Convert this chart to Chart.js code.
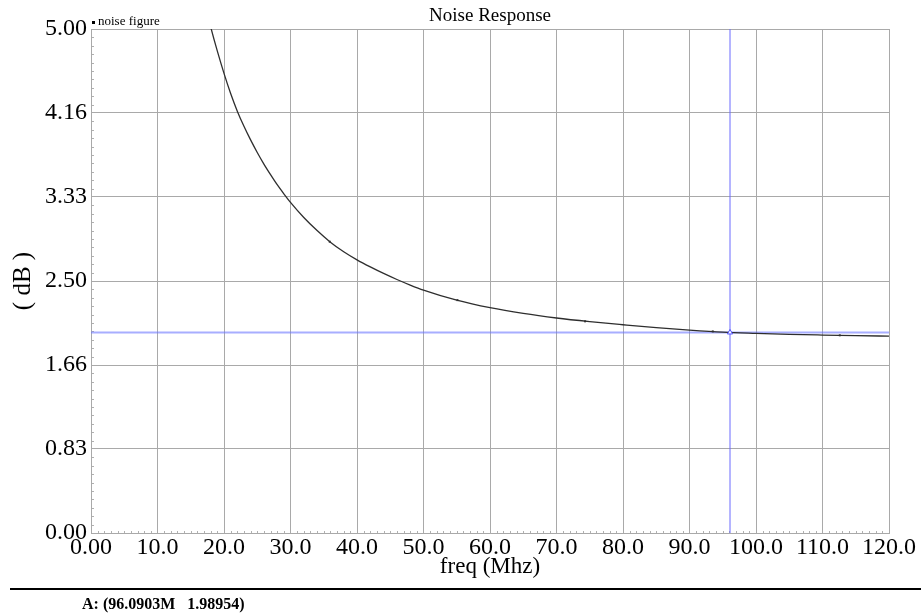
<!DOCTYPE html>
<html>
<head>
  <script src="https://cdn.jsdelivr.net/npm/chart.js@4"></script>
  <style>
    body { margin: 0; background: #fff; }
    #wrap { width: 921px; height: 613px; position: relative; }
  </style>
</head>
<body>
  <div id="wrap"><canvas id="myChart"></canvas></div>

  <script type="text/javascript">
    // noise figure curve
    var freq = [17, 18, 19, 20, 21, 22, 23, 24, 25, 26, 27, 28, 29, 30, 32, 34, 36, 38, 40, 42, 44, 46, 48, 50,
      55, 60, 65, 70, 75, 80, 85, 90, 95, 100, 105, 110, 115, 120];
    var noiseFig = [5.29, 5.02, 4.78, 4.56, 4.36, 4.185, 4.035, 3.90, 3.775, 3.66, 3.555, 3.455, 3.365, 3.28, 3.13, 3.00, 2.885, 2.79, 2.71, 2.64, 2.575, 2.515, 2.46, 2.41,
      2.31, 2.235, 2.178, 2.133, 2.097, 2.066, 2.037, 2.013, 1.993, 1.981, 1.971, 1.964, 1.958, 1.953];

    // small dot markers on the trace
    var markFreq = [35.9, 55.1, 74.3, 93.5, 112.6];
    var markVal = [2.89, 2.31, 2.10, 2.000, 1.961];

    // marker A
    var cursorFreq = 96.0903;
    var cursorVal = 1.98954;

    var xTicks = [0, 10, 20, 30, 40, 50, 60, 70, 80, 90, 100, 110, 120];
    var xTickLabels = ['0.00', '10.0', '20.0', '30.0', '40.0', '50.0', '60.0', '70.0', '80.0', '90.0', '100.0', '110.0', '120.0'];
    var yTicks = [0, 5 / 6, 10 / 6, 2.5, 20 / 6, 25 / 6, 5];
    var yTickLabels = ['0.00', '0.83', '1.66', '2.50', '3.33', '4.16', '5.00'];

    var serif = "'Liberation Serif', 'Times New Roman', serif";
    var gridColor = '#a9a9a9';

    function pts(xs, ys) {
      return xs.map(function (x, i) { return { x: x, y: ys[i] }; });
    }

    // title, legend, minor ticks and the marker readout under the chart
    var overlay = {
      id: 'overlay',
      beforeDatasetsDraw: function (chart) {
        var c = chart.ctx, a = chart.chartArea, sx = chart.scales.x, sy = chart.scales.y;
        c.save();
        c.fillStyle = '#b0b0b0';
        for (var f = 1; f < 120; f++) {
          if (f % 10 == 0) continue;
          c.fillRect(Math.round(sx.getPixelForValue(f)), a.bottom - 2, 1, 2);
        }
        for (var k = 1; k < 60; k++) {
          if (k % 10 == 0) continue;
          c.fillRect(a.left + 1, Math.round(sy.getPixelForValue(k * 5 / 60)), 2, 1);
        }
        c.restore();
      },
      afterDraw: function (chart) {
        var c = chart.ctx, a = chart.chartArea;
        c.save();
        c.fillStyle = '#000';
        c.textBaseline = 'alphabetic';
        c.textAlign = 'center';
        c.font = '19px ' + serif;
        c.fillText('Noise Response', (a.left + a.right) / 2, 21);

        c.textAlign = 'left';
        c.fillRect(92, 21, 3, 3);
        c.font = '13px ' + serif;
        c.fillText('noise figure', 98, 25);

        c.fillRect(10, 588, 911, 2);
        c.font = 'bold 16px ' + serif;
        c.fillText('A: (96.0903M   1.98954)', 82, 609);
        c.restore();
      }
    };

    var ctx = document.getElementById('myChart').getContext('2d');
    var chart = new Chart(ctx, {
      type: 'line',
      data: {
        datasets: [{
          label: 'A',
          data: [{ x: cursorFreq, y: cursorVal }],
          showLine: false,
          pointStyle: 'triangle',
          pointRadius: 3,
          borderColor: '#4f4fff',
          backgroundColor: '#fff',
          borderWidth: 1
        }, {
          label: 'noise figure',
          data: pts(freq, noiseFig),
          borderColor: '#2e2e2e',
          borderWidth: 1.3,
          pointRadius: 0,
          cubicInterpolationMode: 'monotone',
          fill: false
        }, {
          label: 'marks',
          data: pts(markFreq, markVal),
          showLine: false,
          pointStyle: 'rect',
          pointRadius: 1.4,
          borderWidth: 0,
          backgroundColor: '#2e2e2e'
        }, {
          label: 'cursor h',
          data: [{ x: 0, y: cursorVal }, { x: 120, y: cursorVal }],
          borderColor: 'rgba(110,120,255,0.6)',
          borderWidth: 2,
          pointRadius: 0
        }, {
          label: 'cursor v',
          data: [{ x: cursorFreq, y: 0 }, { x: cursorFreq, y: 5 }],
          borderColor: '#6a6aff',
          borderWidth: 1,
          pointRadius: 0
        }]
      },
      options: {
        responsive: true,
        maintainAspectRatio: false,
        animation: false,
        devicePixelRatio: 1,
        events: [],
        layout: { padding: { top: 29, right: 32, bottom: 30, left: 0 } },
        plugins: {
          legend: { display: false },
          tooltip: { enabled: false },
          title: { display: false }
        },
        scales: {
          x: {
            type: 'linear',
            min: 0,
            max: 120,
            afterBuildTicks: function (s) { s.ticks = xTicks.map(function (v) { return { value: v }; }); },
            afterFit: function (s) { s.height = 50; },
            ticks: {
              autoSkip: false,
              maxRotation: 0,
              padding: 0,
              color: '#000',
              font: { family: serif, size: 24 },
              callback: function (v, i) { return xTickLabels[i]; }
            },
            grid: { color: gridColor, drawTicks: false },
            border: { color: gridColor },
            title: {
              display: true,
              text: 'freq (Mhz)',
              color: '#000',
              font: { family: serif, size: 23 },
              padding: { top: 0, bottom: 2 }
            }
          },
          y: {
            min: 0,
            max: 5,
            afterBuildTicks: function (s) { s.ticks = yTicks.map(function (v) { return { value: v }; }); },
            afterFit: function (s) { s.width = 91; },
            ticks: {
              autoSkip: false,
              padding: 4,
              color: '#000',
              font: { family: serif, size: 24 },
              callback: function (v, i) { return yTickLabels[i]; }
            },
            grid: { color: gridColor, drawTicks: false },
            border: { color: gridColor },
            title: {
              display: true,
              text: '( dB )',
              color: '#000',
              font: { family: serif, size: 25 },
              padding: { top: 8, bottom: 0 }
            }
          }
        }
      },
      plugins: [overlay]
    });
  </script>
</body>
</html>
